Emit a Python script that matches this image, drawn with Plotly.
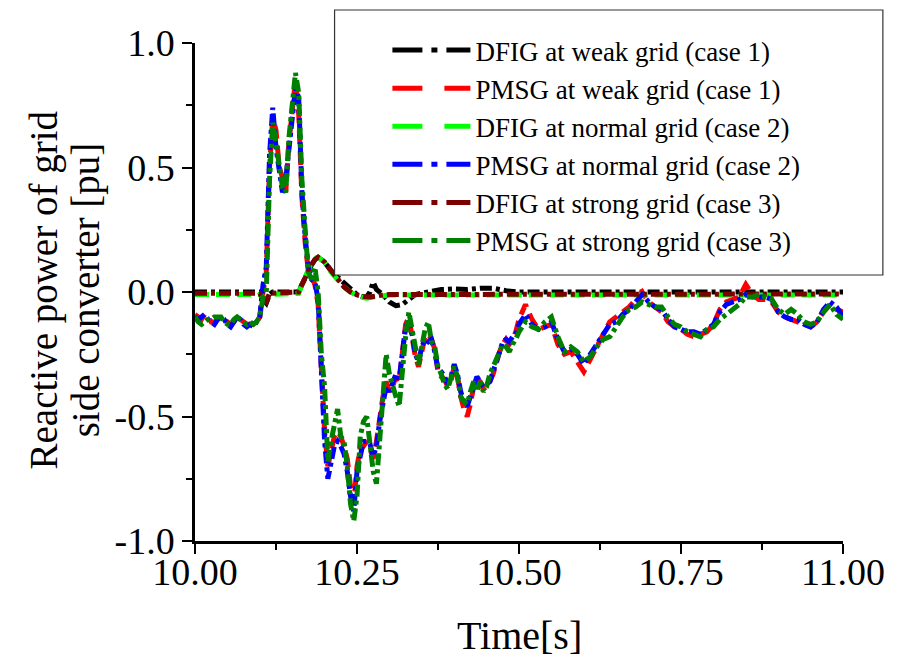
import numpy as np
import plotly.graph_objects as go

# ---------------- data ----------------
# PMSG sample times: 5 ms steps up to 10.5 s, then 10 ms steps
t_pmsg = [round(v, 3) for v in np.arange(10.0, 10.5001, 0.005)] + \
         [round(v, 2) for v in np.arange(10.51, 11.0001, 0.01)]

q_pmsg_weak = [
    -0.09, -0.10, -0.11, -0.09, -0.10, -0.12, -0.12, -0.11, -0.10, -0.11,
    -0.12, -0.13, -0.12, -0.10, -0.11, -0.12, -0.13, -0.13, -0.13, -0.12,
    -0.10, 0.00, 0.08, 0.50, 0.70, 0.65, 0.50, 0.46, 0.40, 0.60,
    0.72, 0.85, 0.72, 0.38, 0.20, 0.08, 0.06, 0.03, -0.05, -0.28,
    -0.56, -0.70, -0.63, -0.58, -0.56, -0.58, -0.62, -0.67, -0.78, -0.85,
    -0.70, -0.63, -0.62, -0.60, -0.63, -0.67, -0.60, -0.50, -0.42, -0.36,
    -0.40, -0.38, -0.34, -0.36, -0.22, -0.13, -0.10, -0.17, -0.26, -0.30,
    -0.24, -0.18, -0.17, -0.19, -0.23, -0.32, -0.34, -0.35, -0.38, -0.36,
    -0.30, -0.34, -0.42, -0.47, -0.50, -0.45, -0.38, -0.35, -0.36, -0.39,
    -0.38, -0.36, -0.33, -0.28, -0.24, -0.21, -0.19, -0.21, -0.19, -0.16,
    -0.11,
    -0.05, -0.11, -0.15, -0.14, -0.13, -0.21, -0.25, -0.24, -0.28, -0.32,
    -0.27, -0.22, -0.18, -0.12, -0.10, -0.08, -0.06, -0.03, 0.00, -0.04,
    -0.06, -0.08, -0.12, -0.14, -0.15, -0.17, -0.18, -0.17, -0.16, -0.13,
    -0.07, -0.04, -0.03, -0.02, 0.03, -0.01, -0.03, -0.03, -0.04, -0.08,
    -0.10, -0.11, -0.12, -0.13, -0.14, -0.12, -0.08, -0.05, -0.07, -0.08,
]

q_pmsg_normal = [
    -0.10, -0.11, -0.10, -0.09, -0.11, -0.12, -0.13, -0.11, -0.10, -0.11,
    -0.13, -0.14, -0.12, -0.10, -0.11, -0.13, -0.14, -0.13, -0.14, -0.12,
    -0.10, 0.03, 0.10, 0.55, 0.74, 0.58, 0.48, 0.40, 0.45, 0.58,
    0.70, 0.82, 0.78, 0.40, 0.22, 0.10, 0.05, 0.04, -0.03, -0.30,
    -0.60, -0.75, -0.68, -0.62, -0.60, -0.62, -0.65, -0.72, -0.82, -0.88,
    -0.72, -0.65, -0.60, -0.60, -0.61, -0.66, -0.62, -0.52, -0.45, -0.38,
    -0.40, -0.36, -0.33, -0.35, -0.25, -0.14, -0.12, -0.17, -0.25, -0.28,
    -0.22, -0.19, -0.20, -0.19, -0.24, -0.31, -0.32, -0.34, -0.37, -0.34,
    -0.29, -0.33, -0.40, -0.44, -0.46, -0.42, -0.37, -0.34, -0.36, -0.38,
    -0.37, -0.36, -0.32, -0.28, -0.24, -0.20, -0.19, -0.20, -0.18, -0.17,
    -0.13,
    -0.09, -0.13, -0.15, -0.14, -0.12, -0.19, -0.24, -0.23, -0.25, -0.29,
    -0.25, -0.21, -0.17, -0.13, -0.12, -0.09, -0.07, -0.04, -0.01, -0.04,
    -0.06, -0.07, -0.11, -0.14, -0.15, -0.16, -0.16, -0.17, -0.15, -0.13,
    -0.08, -0.05, -0.04, -0.03, -0.01, -0.02, -0.02, -0.02, -0.03, -0.08,
    -0.10, -0.11, -0.11, -0.13, -0.14, -0.12, -0.07, -0.04, -0.06, -0.10,
]

q_pmsg_strong = [
    -0.10, -0.12, -0.13, -0.12, -0.11, -0.11, -0.10, -0.10, -0.10, -0.12,
    -0.13, -0.13, -0.11, -0.10, -0.11, -0.12, -0.13, -0.12, -0.13, -0.12,
    -0.10, -0.02, 0.00, 0.45, 0.68, 0.60, 0.50, 0.42, 0.40, 0.62,
    0.75, 0.88, 0.80, 0.45, 0.25, 0.08, 0.05, 0.10, 0.00, -0.25,
    -0.38, -0.68, -0.60, -0.52, -0.47, -0.58, -0.60, -0.70, -0.85, -0.92,
    -0.82, -0.58, -0.52, -0.50, -0.60, -0.72, -0.77, -0.60, -0.45, -0.25,
    -0.33, -0.38, -0.42, -0.46, -0.30, -0.18, -0.08, -0.16, -0.24, -0.29,
    -0.22, -0.15, -0.12, -0.20, -0.22, -0.30, -0.33, -0.37, -0.39, -0.34,
    -0.30, -0.34, -0.42, -0.44, -0.45, -0.40, -0.36, -0.40, -0.36, -0.40,
    -0.38, -0.33, -0.30, -0.28, -0.24, -0.21, -0.22, -0.24, -0.21, -0.19,
    -0.16,
    -0.12, -0.14, -0.15, -0.12, -0.10, -0.18, -0.24, -0.22, -0.24, -0.28,
    -0.26, -0.22, -0.19, -0.18, -0.14, -0.10, -0.07, -0.06, -0.04, -0.05,
    -0.06, -0.06, -0.10, -0.13, -0.14, -0.16, -0.17, -0.18, -0.15, -0.14,
    -0.11, -0.09, -0.07, -0.05, -0.02, -0.02, -0.01, -0.02, -0.03, -0.07,
    -0.09, -0.07, -0.09, -0.12, -0.13, -0.12, -0.08, -0.05, -0.09, -0.11,
]

t_dfig = [
    10.00, 10.02, 10.04, 10.06, 10.08, 10.10, 10.105, 10.11, 10.115, 10.12,
    10.14, 10.16, 10.165, 10.17, 10.175, 10.18, 10.185, 10.19, 10.20, 10.21,
    10.22, 10.23, 10.24, 10.25, 10.26, 10.265, 10.27, 10.275, 10.28, 10.29,
    10.30, 10.31, 10.32, 10.33, 10.34, 10.36, 10.38, 10.40, 10.42, 10.44,
    10.46, 10.48, 10.50, 10.55, 10.60, 10.65, 10.70, 10.75, 10.80, 10.85,
    10.90, 10.95, 11.00,
]

q_dfig_weak = [
    0.00, 0.00, 0.00, 0.00, 0.00, 0.00, -0.03, -0.045, -0.01, 0.00,
    0.00, 0.00, 0.03, 0.06, 0.08, 0.11, 0.13, 0.14, 0.12, 0.085,
    0.06, 0.035, 0.015, -0.01, -0.02, -0.02, 0.00, 0.04, 0.01, -0.01,
    -0.04, -0.055, -0.05, -0.03, -0.01, 0.00, 0.01, 0.012, 0.01, 0.015,
    0.015, 0.005, 0.00, 0.00, 0.00, 0.00, 0.00, 0.00, 0.00, 0.00,
    0.00, 0.00, 0.00,
]

q_dfig_normal = [
    -0.01, -0.01, -0.005, -0.01, -0.01, -0.01, -0.02, -0.03, -0.01, -0.01,
    -0.01, -0.005, 0.03, 0.06, 0.09, 0.12, 0.135, 0.14, 0.12, 0.08,
    0.05, 0.02, 0.00, -0.015, -0.022, -0.025, -0.022, -0.02, -0.018, -0.015,
    -0.012, -0.012, -0.012, -0.01, -0.01, -0.01, -0.012, -0.01, -0.012, -0.01,
    -0.012, -0.01, -0.012, -0.01, -0.012, -0.01, -0.012, -0.01, -0.012, -0.01,
    -0.012, -0.01, -0.012,
]

q_dfig_strong = [
    -0.005, -0.005, 0.00, -0.005, -0.005, -0.005, -0.03, -0.04, -0.005, -0.005,
    -0.005, 0.00, 0.03, 0.06, 0.08, 0.11, 0.13, 0.14, 0.12, 0.085,
    0.05, 0.02, 0.00, -0.012, -0.018, -0.02, -0.02, -0.018, -0.015, -0.012,
    -0.01, -0.01, -0.01, -0.008, -0.008, -0.006, -0.008, -0.006, -0.008, -0.006,
    -0.008, -0.006, -0.008, -0.006, -0.008, -0.006, -0.008, -0.006, -0.008, -0.006,
    -0.008, -0.006, -0.008,
]

series_names = [
    "DFIG at weak grid (case 1)",
    "PMSG at weak grid (case 1)",
    "DFIG at normal grid (case 2)",
    "PMSG at normal grid (case 2)",
    "DFIG at strong grid (case 3)",
    "PMSG at strong grid (case 3)",
]

x_tickvals = [10.0, 10.25, 10.5, 10.75, 11.0]
x_ticktext = ["10.00", "10.25", "10.50", "10.75", "11.00"]
x_minor = [10.125, 10.375, 10.625, 10.875]
y_tickvals = [-1.0, -0.5, 0.0, 0.5, 1.0]
y_ticktext = ["-1.0", "-0.5", "0.0", "0.5", "1.0"]
y_minor = [-0.75, -0.25, 0.25, 0.75]

# ---------------- styles ----------------
FONT = "Liberation Serif"
colors = ["#000000", "#FF0000", "#00FF00", "#0000FF", "#7B0000", "#008000"]
DD = "12px,4px,4px,4px"      # dash-dot in plot
DS = "14px,7px"              # dash in plot
LDD = "30px,9px,6px,9px"     # dash-dot in legend sample
LDS = "30px,22px"            # dash in legend sample
plot_dash = [DD, DS, DS, DD, DD, DD]
leg_dash = [LDD, LDS, LDS, LDD, LDD, LDD]

data = [
    (t_dfig, q_dfig_weak),
    (t_pmsg, q_pmsg_weak),
    (t_dfig, q_dfig_normal),
    (t_pmsg, q_pmsg_normal),
    (t_dfig, q_dfig_strong),
    (t_pmsg, q_pmsg_strong),
]

fig = go.Figure()
for (tx, qy), name, c, d in zip(data, series_names, colors, plot_dash):
    fig.add_trace(go.Scatter(x=tx, y=qy, mode="lines", name=name, showlegend=False,
                             line=dict(color=c, width=5, dash=d)))
for name, c, d in zip(series_names, colors, leg_dash):
    fig.add_trace(go.Scatter(x=[None], y=[None], mode="lines", name=name,
                             line=dict(color=c, width=5, dash=d)))

# page body has an 8px margin; work in reference-image pixels
OFF = 8
W, H = 897 - OFF, 661 - OFF
L, R, T, B = 195 - OFF, 52, 43 - OFF, 120
pw, ph = W - L - R, H - T - B


def px(xp):
    return (xp - OFF - L) / pw


def py(yp):
    return (H - B - (yp - OFF)) / ph


fig.add_shape(type="rect", xref="paper", yref="paper",
              x0=px(335), x1=px(885), y0=py(275), y1=py(10),
              line=dict(color="#333333", width=1.2), fillcolor="white", layer="above")

axis_common = dict(showgrid=False, zeroline=False, ticks="outside", ticklen=10, tickwidth=2,
                   tickcolor="black", showline=True, linecolor="black", linewidth=2.5,
                   tickfont=dict(family=FONT, size=38, color="black"), mirror=False)

fig.update_xaxes(range=[10, 11], tickmode="array", tickvals=x_tickvals, ticktext=x_ticktext,
                 ticklabelstandoff=-14,
                 minor=dict(tickmode="array", tickvals=x_minor, ticks="outside", ticklen=6,
                            tickwidth=2, tickcolor="black"),
                 **axis_common)
fig.update_yaxes(range=[-1, 1], tickmode="array", tickvals=y_tickvals, ticktext=y_ticktext,
                 minor=dict(tickmode="array", tickvals=y_minor, ticks="outside", ticklen=6,
                            tickwidth=2, tickcolor="black"),
                 **axis_common)

fig.update_layout(
    width=W, height=H,
    margin=dict(l=L, r=R, t=T, b=B, pad=0),
    plot_bgcolor="white", paper_bgcolor="white",
    font=dict(family=FONT, color="black"),
    legend=dict(x=px(388), y=py(26), xanchor="left", yanchor="top",
                bgcolor="rgba(0,0,0,0)", borderwidth=0, itemwidth=78,
                font=dict(family=FONT, size=27, color="black"), tracegroupgap=0),
    annotations=[
        dict(text="Time[s]", xref="paper", yref="paper", x=0.5, y=py(635),
             xanchor="center", yanchor="middle", showarrow=False,
             font=dict(family=FONT, size=40, color="black")),
        dict(text="Reactive power of grid", xref="paper", yref="paper", x=px(44), y=py(290),
             xanchor="center", yanchor="middle", textangle=-90, showarrow=False,
             font=dict(family=FONT, size=39, color="black")),
        dict(text="side converter [pu]", xref="paper", yref="paper", x=px(86), y=py(290),
             xanchor="center", yanchor="middle", textangle=-90, showarrow=False,
             font=dict(family=FONT, size=39, color="black")),
    ],
)

fig.write_html("out.html")
